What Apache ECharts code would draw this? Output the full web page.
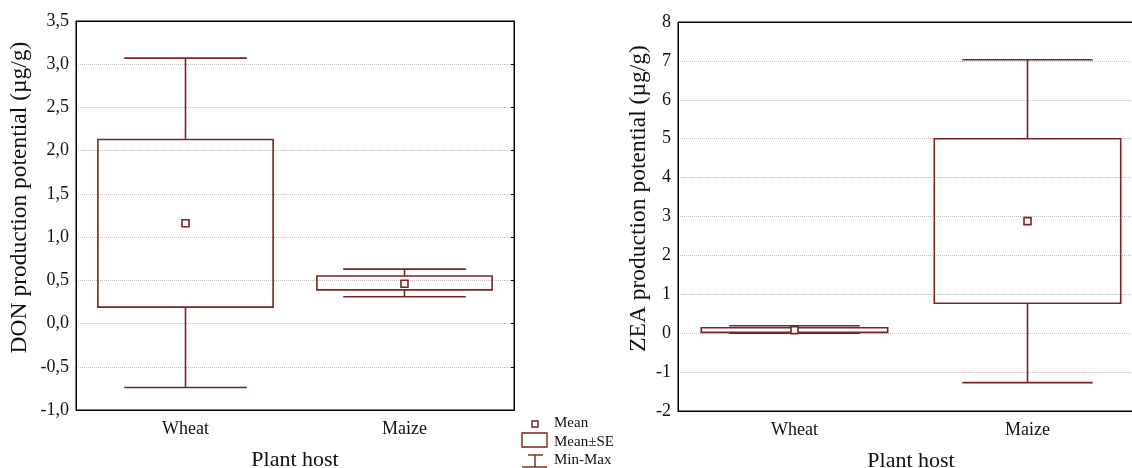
<!DOCTYPE html>
<html>
<head>
<meta charset="utf-8">
<script src="https://cdn.jsdelivr.net/npm/echarts@6/dist/echarts.min.js"></script>
<style>html,body{margin:0;padding:0;background:#fff}#c{width:1132px;height:468px}</style>
</head>
<body>
<div id="c"></div>
<script>
// ---- data ----
const categories = ['Wheat', 'Maize'];
// DON production potential (µg/g)
const donMin    = [-0.74, 0.31];
const donSeLow  = [0.19, 0.39];
const donMean   = [1.16, 0.46];
const donSeHigh = [2.13, 0.55];
const donMax    = [3.07, 0.63];
const donTickLabels = ['-1,0', '-0,5', '0,0', '0,5', '1,0', '1,5', '2,0', '2,5', '3,0', '3,5'];
// ZEA production potential (µg/g)
const zeaMin    = [0.00, -1.27];
const zeaSeLow  = [0.02, 0.77];
const zeaMean   = [0.08, 2.88];
const zeaSeHigh = [0.14, 5.00];
const zeaMax    = [0.19, 7.03];
const zeaTickLabels = ['-2', '-1', '0', '1', '2', '3', '4', '5', '6', '7', '8'];

const legendLabels = ['Mean', 'Mean±SE', 'Min-Max'];
const xName = 'Plant host';
const donName = 'DON production potential (µg/g)';
const zeaName = 'ZEA production potential (µg/g)';

// ---- styling ----
const C = '#7b2222';
const FONT = 'Liberation Serif';
const LW = 1.6;

function rows(mn, lo, me, hi, mx) {
  return categories.map((c, i) => [i, mn[i], lo[i], me[i], hi[i], mx[i]]);
}

function renderBox(params, api) {
  const i = api.value(0);
  const pMin = api.coord([i, api.value(1)]);
  const pLo = api.coord([i, api.value(2)]);
  const pMe = api.coord([i, api.value(3)]);
  const pHi = api.coord([i, api.value(4)]);
  const pMax = api.coord([i, api.value(5)]);
  const band = api.size([1, 0])[0];
  const bw = band * 0.80, cw = band * 0.56;
  const x = pMe[0];
  const ls = { stroke: C, lineWidth: LW, fill: null };
  return {
    type: 'group',
    children: [
      { type: 'line', shape: { x1: x, y1: pMax[1], x2: x, y2: pHi[1] }, style: ls },
      { type: 'line', shape: { x1: x, y1: pLo[1], x2: x, y2: pMin[1] }, style: ls },
      { type: 'line', shape: { x1: x - cw / 2, y1: pMax[1], x2: x + cw / 2, y2: pMax[1] }, style: ls },
      { type: 'line', shape: { x1: x - cw / 2, y1: pMin[1], x2: x + cw / 2, y2: pMin[1] }, style: ls },
      { type: 'rect', shape: { x: x - bw / 2, y: pHi[1], width: bw, height: pLo[1] - pHi[1] }, style: { stroke: C, lineWidth: LW, fill: 'rgba(255,255,255,0)' } },
      { type: 'rect', shape: { x: x - 3.5, y: pMe[1] - 3.5, width: 7, height: 7 }, style: { stroke: C, lineWidth: 1.6, fill: '#fff' } }
    ]
  };
}

const tickStyle = { color: '#111', fontFamily: FONT, fontSize: 18 };

function xAxes(gi) {
  return [
    {
      type: 'category', gridIndex: gi, data: categories, position: 'bottom',
      axisLine: { onZero: false, lineStyle: { color: '#000', width: 1 } },
      axisTick: { alignWithLabel: true, inside: true, length: 3, lineStyle: { color: '#000' } },
      axisLabel: Object.assign({ margin: 10 }, tickStyle),
      name: xName, nameLocation: 'middle', nameGap: 39,
      nameTextStyle: { color: '#111', fontFamily: FONT, fontSize: 22 }
    },
    {
      type: 'category', gridIndex: gi, data: categories, position: 'top',
      axisLine: { show: true, onZero: false, lineStyle: { color: '#000', width: 1 } },
      axisTick: { alignWithLabel: true, inside: true, length: 3, lineStyle: { color: '#000' } },
      axisLabel: { show: false }
    }
  ];
}

function yAxes(gi, min, max, interval, labels, name, gap) {
  return [
    {
      type: 'value', gridIndex: gi, min: min, max: max, interval: interval,
      axisLine: { show: true, onZero: false, lineStyle: { color: '#000', width: 1 } },
      axisTick: { show: false },
      axisLabel: Object.assign({ margin: 7, formatter: (v) => labels[Math.round((v - min) / interval)] }, tickStyle),
      splitLine: { show: true, lineStyle: { type: 'dotted', color: '#bdbdbd', width: 1 } },
      name: name, nameLocation: 'middle', nameGap: gap,
      nameTextStyle: { color: '#111', fontFamily: FONT, fontSize: 23.5, padding: [0, 0, 0, 36] }
    },
    {
      type: 'value', gridIndex: gi, min: min, max: max, interval: interval, position: 'right',
      axisLine: { show: true, onZero: false, lineStyle: { color: '#000', width: 1 } },
      axisTick: { show: true, inside: true, length: 3, lineStyle: { color: '#000' } },
      axisLabel: { show: false }, splitLine: { show: false }
    }
  ];
}

const legendGraphic = [
  { type: 'rect', shape: { x: 532, y: 421, width: 6, height: 6 }, style: { stroke: C, lineWidth: 1.4, fill: '#fff' } },
  { type: 'rect', shape: { x: 522, y: 433, width: 25, height: 14 }, style: { stroke: C, lineWidth: 1.4, fill: '#fff' } },
  { type: 'line', shape: { x1: 528, y1: 455, x2: 543, y2: 455 }, style: { stroke: C, lineWidth: 1.4 } },
  { type: 'line', shape: { x1: 535, y1: 455, x2: 535, y2: 467 }, style: { stroke: C, lineWidth: 1.4 } },
  { type: 'line', shape: { x1: 522, y1: 467, x2: 547, y2: 467 }, style: { stroke: C, lineWidth: 1.4 } },
  { type: 'text', x: 554, y: 423, style: { text: legendLabels[0], fill: '#111', font: '15px "Liberation Serif"', verticalAlign: 'middle' } },
  { type: 'text', x: 554, y: 442, style: { text: legendLabels[1], fill: '#111', font: '15px "Liberation Serif"', verticalAlign: 'middle' } },
  { type: 'text', x: 554, y: 460, style: { text: legendLabels[2], fill: '#111', font: '15px "Liberation Serif"', verticalAlign: 'middle' } }
];

const chart = echarts.init(document.getElementById('c'), null, { renderer: 'canvas' });
chart.setOption({
  animation: false,
  backgroundColor: '#fff',
  grid: [
    { left: 76, top: 21, width: 438, height: 389, show: true, borderColor: '#000', borderWidth: 1, containLabel: false, outerBoundsMode: 'none' },
    { left: 678, top: 22, width: 466, height: 389, show: true, borderColor: '#000', borderWidth: 1, containLabel: false, outerBoundsMode: 'none' }
  ],
  xAxis: [].concat(xAxes(0), xAxes(1)),
  yAxis: [].concat(yAxes(0, -1, 3.5, 0.5, donTickLabels, donName, 44), yAxes(1, -2, 8, 1, zeaTickLabels, zeaName, 27)),
  series: [
    { type: 'custom', xAxisIndex: 0, yAxisIndex: 0, renderItem: renderBox, encode: { x: 0, y: [1, 5] }, data: rows(donMin, donSeLow, donMean, donSeHigh, donMax), clip: false },
    { type: 'custom', xAxisIndex: 2, yAxisIndex: 2, renderItem: renderBox, encode: { x: 0, y: [1, 5] }, data: rows(zeaMin, zeaSeLow, zeaMean, zeaSeHigh, zeaMax), clip: false }
  ],
  graphic: legendGraphic
});
</script>
</body>
</html>
